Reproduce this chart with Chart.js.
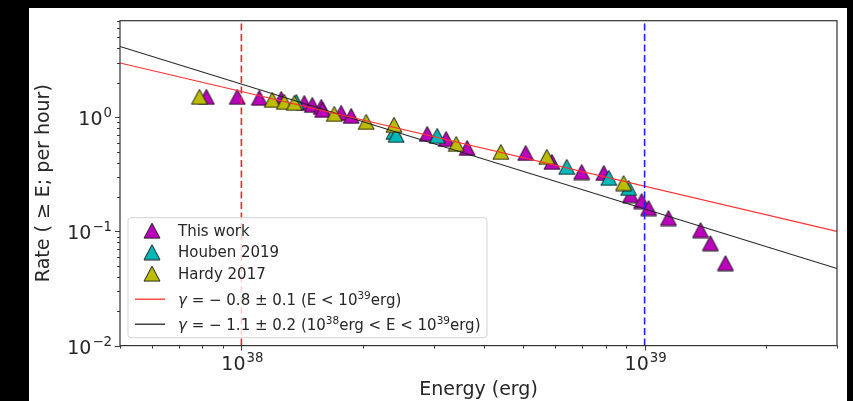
<!DOCTYPE html>
<html>
<head>
<meta charset="utf-8">
<script src="https://cdn.jsdelivr.net/npm/chart.js@4"></script>
<style>
  html, body { margin: 0; padding: 0; background: #000; }
  #wrap { position: absolute; left: 29px; top: 8px; width: 818px; height: 393px; background: #fff; }
</style>
</head>
<body>
<div id="wrap"><canvas id="chart"></canvas></div>
<script>
"use strict";

// ── Data ─────────────────────────────────────────────────────────────────────

const thisWorkE = [8.19e37, 9.77e37, 1.108e38, 1.256e38, 1.432e38, 1.499e38, 1.578e38, 1.59e38,
  1.768e38, 1.872e38, 2.89e38, 3.22e38, 3.63e38, 5.07e38, 5.89e38, 6.98e38, 7.92e38, 9.23e38,
  9.83e38, 1.023e39, 1.146e39, 1.376e39, 1.456e39, 1.587e39];
const thisWorkRate = [1.507, 1.507, 1.477, 1.447, 1.335, 1.282, 1.231, 1.159,
  1.091, 1.027, 0.714, 0.645, 0.538, 0.486, 0.406, 0.331, 0.325, 0.208,
  0.1845, 0.160, 0.131, 0.1026, 0.0789, 0.0527];

const houbenE = [1.368e38, 2.39e38, 2.42e38, 3.06e38, 6.41e38, 8.15e38, 9.13e38];
const houbenRate = [1.362, 0.743, 0.700, 0.686, 0.367, 0.294, 0.240];

const hardyE = [7.87e37, 1.193e38, 1.278e38, 1.353e38, 1.70e38, 2.04e38, 2.39e38, 3.41e38,
  4.40e38, 5.72e38, 8.87e38];
const hardyRate = [1.507, 1.418, 1.362, 1.335, 1.069, 0.910, 0.856, 0.583,
  0.496, 0.449, 0.265];

// fit lines: end points read at the plot edges
const fitShallowE = [5e37, 3e39];
const fitShallowRate = [2.98, 0.100];
const fitSteepE = [5e37, 3e39];
const fitSteepRate = [4.16, 0.0473];

const cutE = [1e38, 1e39];          // dashed vertical markers
const xRange = [5e37, 3e39];
const yRange = [0.01, 7.0];
const xMajor = [1e38, 1e39];
const yMajor = [0.01, 0.1, 1];
const xMajorExp = ["38", "39"];
const yMajorExp = ["\u22122", "\u22121", "0"];

const legendNames = ["This work", "Houben 2019", "Hardy 2017"];

// ── Helpers ──────────────────────────────────────────────────────────────────

const FONT = "'DejaVu Sans', sans-serif";
const TXT = "#262626";

const pts = (xs, ys) => xs.map((x, i) => ({ x, y: ys[i] }));

// matplotlib-style "^" marker: bbox centred on the point
function triangle(fill) {
  const c = document.createElement("canvas");
  c.width = 18; c.height = 17;
  const g = c.getContext("2d");
  g.beginPath();
  g.moveTo(9, 1); g.lineTo(1, 16); g.lineTo(17, 16); g.closePath();
  g.fillStyle = fill; g.fill();
  g.lineWidth = 1; g.strokeStyle = "#1a1a1a"; g.stroke();
  return c;
}

const MAG = triangle("#bb00bb");
const CYA = triangle("#00b8b8");
const YEL = triangle("#bcbc00");

function minorTicks(lo, hi) {
  const out = [];
  for (let e = Math.floor(Math.log10(lo)); e <= Math.ceil(Math.log10(hi)); e++) {
    for (let k = 1; k <= 9; k++) {
      const v = k * Math.pow(10, e);
      if (v >= lo * 0.999 && v <= hi * 1.001) out.push(v);
    }
  }
  return out;
}

// text with a superscript tail, like mathtext 10^{38}
function drawPow(ctx, base, exp, x, y, size, align) {
  ctx.font = `${size}px ${FONT}`;
  const wb = ctx.measureText(base).width;
  ctx.font = `${size * 0.7}px ${FONT}`;
  const we = ctx.measureText(exp).width;
  const total = wb + we + 1;
  let x0 = x;
  if (align === "center") x0 = x - total / 2;
  if (align === "right") x0 = x - total;
  ctx.textAlign = "left";
  ctx.textBaseline = "alphabetic";
  ctx.font = `${size}px ${FONT}`;
  ctx.fillText(base, x0, y);
  ctx.font = `${size * 0.7}px ${FONT}`;
  ctx.fillText(exp, x0 + wb + 1, y - size * 0.42);
}

// legend row made of segments [text, sup?, italic?]
function drawRich(ctx, segs, x, y, size) {
  ctx.textAlign = "left";
  ctx.textBaseline = "alphabetic";
  let cx = x;
  segs.forEach(([t, sup, it]) => {
    const s = sup ? size * 0.7 : size;
    ctx.font = `${it ? "italic " : ""}${s}px ${FONT}`;
    ctx.fillText(t, cx, sup ? y - size * 0.4 : y);
    cx += ctx.measureText(t).width;
  });
}

// ── Axes, frame and legend ───────────────────────────────────────────────────

const decor = {
  id: "decor",
  afterDraw(chart) {
    const { ctx, chartArea: a, scales: { x, y } } = chart;
    ctx.save();

    // ticks
    ctx.strokeStyle = "#3a3a3a";
    ctx.lineWidth = 1;
    ctx.beginPath();
    minorTicks(xRange[0], xRange[1]).forEach((v) => {
      const px = Math.round(x.getPixelForValue(v)) + 0.5;
      const len = xMajor.includes(v) ? 5 : 3;
      ctx.moveTo(px, a.bottom); ctx.lineTo(px, a.bottom + len);
    });
    minorTicks(yRange[0], yRange[1]).forEach((v) => {
      const py = Math.round(y.getPixelForValue(v)) + 0.5;
      const len = yMajor.some((m) => Math.abs(m - v) / m < 1e-6) ? 5 : 3;
      ctx.moveTo(a.left, py); ctx.lineTo(a.left - len, py);
    });
    ctx.stroke();

    // frame
    ctx.strokeStyle = "#333";
    ctx.lineWidth = 1.2;
    ctx.strokeRect(a.left, a.top, a.right - a.left, a.bottom - a.top);

    // tick labels
    ctx.fillStyle = TXT;
    xMajor.forEach((v, i) => {
      drawPow(ctx, "10", xMajorExp[i], x.getPixelForValue(v) + 1, a.bottom + 24, 19, "center");
    });
    yMajor.forEach((v, i) => {
      drawPow(ctx, "10", yMajorExp[i], a.left - 8, y.getPixelForValue(v) + 8, 19, "right");
    });

    // axis titles
    ctx.font = `19px ${FONT}`;
    ctx.textAlign = "center";
    ctx.textBaseline = "alphabetic";
    ctx.fillText("Energy (erg)", (a.left + a.right) / 2, a.bottom + 49);
    ctx.save();
    ctx.translate(a.left - 76, (a.top + a.bottom) / 2);
    ctx.rotate(-Math.PI / 2);
    ctx.textBaseline = "middle";
    ctx.fillText("Rate ( \u2265 E; per hour)", 0, 0);
    ctx.restore();

    // legend box
    const lx = a.left + 8, ly = a.top + 197, lw = 359, lh = 120;
    ctx.beginPath();
    ctx.roundRect(lx, ly, lw, lh, 3);
    ctx.fillStyle = "rgba(255,255,255,0.8)";
    ctx.fill();
    ctx.strokeStyle = "#d4d4d4";
    ctx.lineWidth = 1;
    ctx.stroke();

    const mx = a.left + 32, tx = a.left + 58;
    const rows = [a.top + 210, a.top + 231.5, a.top + 253, a.top + 278.5, a.top + 303.5];
    [MAG, CYA, YEL].forEach((img, i) => {
      ctx.drawImage(img, mx - 9, rows[i] - 8.5);
    });
    [["#ff3030", rows[3]], ["#222", rows[4]]].forEach(([c, ry]) => {
      ctx.strokeStyle = c; ctx.lineWidth = 1.3;
      ctx.beginPath(); ctx.moveTo(a.left + 15, ry); ctx.lineTo(a.left + 45, ry); ctx.stroke();
    });
    ctx.fillStyle = TXT;
    ctx.font = `15px ${FONT}`;
    ctx.textAlign = "left";
    ctx.textBaseline = "middle";
    legendNames.forEach((n, i) => ctx.fillText(n, tx, rows[i] + 1));
    drawRich(ctx, [["\u03b3", false, true], [" = \u2212 0.8 \u00b1 0.1 (E < 10"], ["39", true], ["erg)"]],
      tx, rows[3] + 5.5, 15);
    drawRich(ctx, [["\u03b3", false, true], [" = \u2212 1.1 \u00b1 0.2 (10"], ["38", true], ["erg < E < 10"],
      ["39", true], ["erg)"]], tx, rows[4] + 5.5, 15);

    ctx.restore();
  },
};

// ── Chart ────────────────────────────────────────────────────────────────────

const lineDs = (label, xs, ys, color, width, dash, order) => ({
  type: "line", label, data: pts(xs, ys), borderColor: color, borderWidth: width,
  borderDash: dash, pointRadius: 0, fill: false, tension: 0, order,
});

const markerDs = (label, xs, ys, img, order) => ({
  type: "scatter", label, data: pts(xs, ys), pointStyle: img,
  pointRadius: 9, pointHoverRadius: 9, order,
});

new Chart(document.getElementById("chart"), {
  type: "scatter",
  data: {
    datasets: [
      lineDs("cut low", [cutE[0], cutE[0]], yRange, "#ff2020", 1.6, [7, 3.5], 0),
      lineDs("cut high", [cutE[1], cutE[1]], yRange, "#2020ff", 1.6, [7, 3.5], 0),
      lineDs("fit shallow", fitShallowE, fitShallowRate, "#ff3030", 1.1, [], 0),
      lineDs("fit steep", fitSteepE, fitSteepRate, "#222222", 1.1, [], 0),
      markerDs("Hardy 2017", hardyE, hardyRate, YEL, 1),
      markerDs("Houben 2019", houbenE, houbenRate, CYA, 2),
      markerDs("This work", thisWorkE, thisWorkRate, MAG, 3),
    ],
  },
  options: {
    responsive: true,
    maintainAspectRatio: false,
    animation: false,
    events: [],
    layout: { padding: { top: 12.7, right: 8, left: 0, bottom: 0 } },
    plugins: { legend: { display: false }, tooltip: { enabled: false } },
    scales: {
      x: {
        type: "logarithmic", min: xRange[0], max: xRange[1],
        ticks: { display: false }, grid: { display: false }, border: { display: false },
        afterFit: (s) => { s.height = 55.4; },
      },
      y: {
        type: "logarithmic", min: yRange[0], max: yRange[1],
        ticks: { display: false }, grid: { display: false }, border: { display: false },
        afterFit: (s) => { s.width = 91; },
      },
    },
  },
  plugins: [decor],
});
</script>
</body>
</html>
